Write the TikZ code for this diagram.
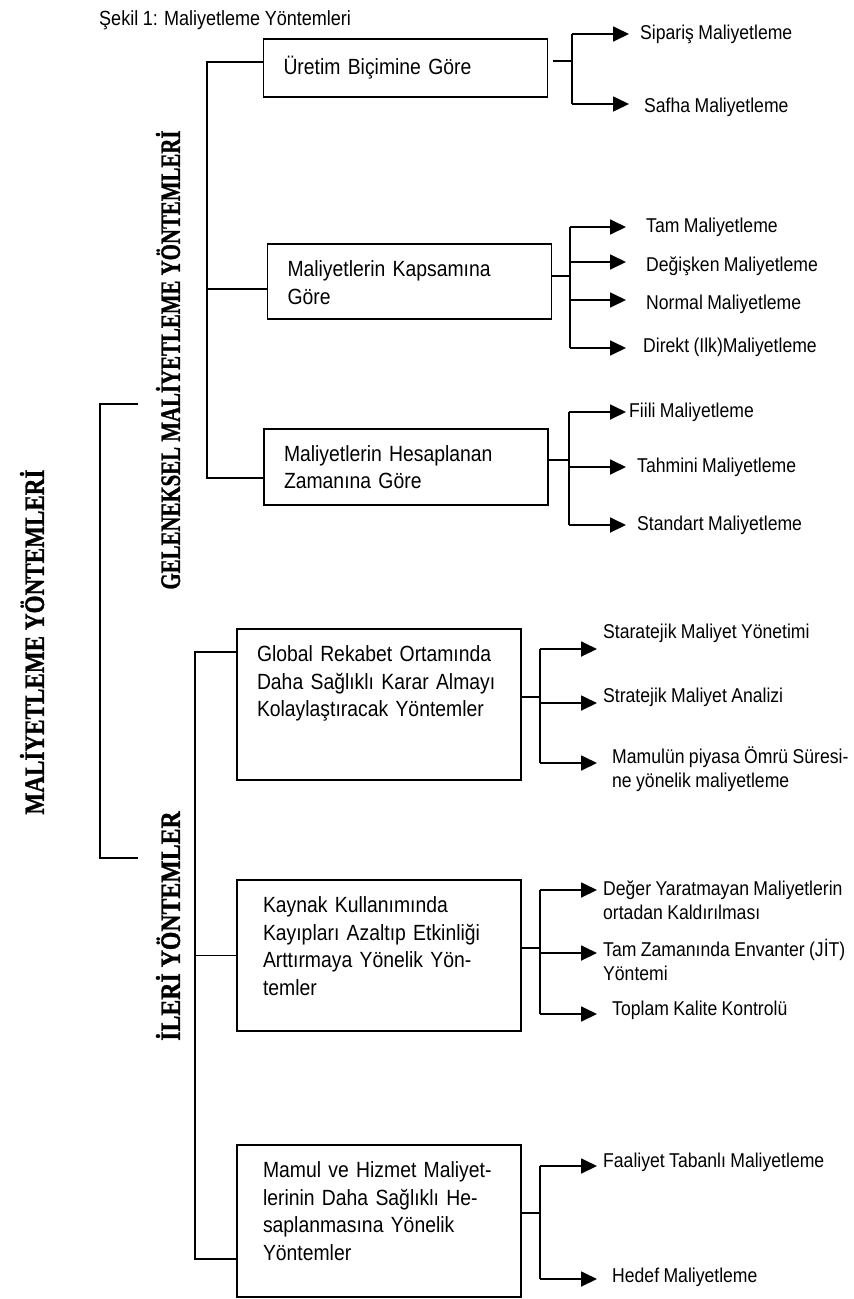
\documentclass[tikz,border=0pt]{standalone}
\usepackage{fontspec}
\setmainfont{Liberation Sans}[FakeStretch=0.88, WordSpace=0.9]
\newfontfamily\headfont{Liberation Serif}[UprightFont={* Bold}, FakeBold=1.3]
\usetikzlibrary{arrows.meta, positioning}

\begin{document}
\begin{tikzpicture}[x=1pt, y=-1pt,
    box/.style={draw, line width=1.9pt, minimum width=284pt, align=left, inner xsep=20pt, text width=244pt, font=\fontsize{22}{27.6}\selectfont},
    wide/.style={inner xsep=26pt, text width=232pt},
    lbl/.style={anchor=west, align=left, inner sep=0pt, font=\fontsize{20}{24.5}\selectfont},
    link/.style={line width=1.8pt},
    arrow/.style={line width=1.8pt, -{Triangle[length=16pt, width=15pt]}},
    head/.style={rotate=90, inner sep=0pt, font=\headfont\fontsize{28}{30}\selectfont}
]
    \useasboundingbox (0,0) rectangle (854,1299);

    % Baslik
    \node[anchor=base west, inner sep=0pt, font=\fontsize{20.5}{24}\selectfont] (title) at (99,25) {Şekil 1: Maliyetleme Yöntemleri};

    % -- Dikey basliklar --
    \node[head] (main) at (32,642) {\scalebox{0.826}[1]{MALİYETLEME YÖNTEMLERİ}};
    \node[head] (gel) at (168,360) {\scalebox{0.745}[1]{GELENEKSEL MALİYETLEME YÖNTEMLERİ}};
    \node[head] (ileri) at (168,926) {\scalebox{0.85}[1]{İLERİ YÖNTEMLER}};

    % -- Geleneksel yontemler (kutular) --
    \node[box, minimum height=58pt] (b1) at (405.5,68) {Üretim Biçimine Göre};
    \node[box, minimum height=75pt, text depth=25.5pt] (b2) at (409.5,281.5) {Maliyetlerin Kapsamına\\Göre};
    \node[box, minimum height=76pt] (b3) at (406,467) {Maliyetlerin Hesaplanan\\Zamanına Göre};

    % -- Ileri yontemler (kutular) --
    \node[box, minimum height=151pt, text depth=101.5pt] (b4) at (379,704.5) {Global Rekabet Ortamında\\Daha Sağlıklı Karar Almayı\\Kolaylaştıracak Yöntemler};
    \node[box, wide, minimum height=151pt, text depth=101.5pt] (b5) at (379,955.5) {Kaynak Kullanımında\\Kayıpları Azaltıp Etkinliği\\Arttırmaya Yönelik Yön-\\temler};
    \node[box, wide, minimum height=152pt, text depth=102.5pt] (b6) at (379,1221) {Mamul ve Hizmet Maliyet-\\lerinin Daha Sağlıklı He-\\saplanmasına Yönelik\\Yöntemler};

    % -- Ana ayrim (sol parantez) --
    \coordinate (gtip) at (138,404);
    \coordinate (itip) at (138,858);
    \draw[link] (gtip) -- ++(-38,0) |- (itip);

    % -- Geleneksel parantezi --
    \coordinate (gx) at (207,0);
    \draw[link] ([yshift=6pt]b1.west) -| ([yshift=-11pt]b3.west -| gx) -- ([yshift=-11pt]b3.west);
    \draw[link] ([yshift=-7.5pt]b2.west) -- ([yshift=-7.5pt]b2.west -| gx);

    % -- Ileri parantezi --
    \coordinate (ix) at (195,0);
    \draw[link] ([yshift=52.5pt]b4.west) -| ([yshift=-38pt]b6.west -| ix) -- ([yshift=-38pt]b6.west);
    \draw[link] (b5.west) -- (b5.west -| ix);

    % -- Uretim bicimine gore --
    \coordinate (f1) at (572,0);
    \coordinate (t11) at (629,34);
    \coordinate (t12) at (629,104);
    \draw[link] ([xshift=5pt, yshift=7pt]b1.east) -- ([yshift=7pt]b1.east -| f1);
    \draw[link] (f1 |- t11) -- (f1 |- t12);
    \draw[arrow] (f1 |- t11) -- (t11);
    \draw[arrow] (f1 |- t12) -- (t12);
    \node[lbl] (l11) at (640,34) {Sipariş Maliyetleme};
    \node[lbl] (l12) at (644,107) {Safha Maliyetleme};

    % -- Kapsamina gore --
    \coordinate (f2) at (570,0);
    \coordinate (t21) at (626,227);
    \coordinate (t22) at (626,262);
    \coordinate (t23) at (626,300);
    \coordinate (t24) at (626,348);
    \draw[link] ([yshift=5.5pt]b2.east) -- ([yshift=5.5pt]b2.east -| f2);
    \draw[link] (f2 |- t21) -- (f2 |- t24);
    \foreach \t in {t21,t22,t23,t24}
        \draw[arrow] (f2 |- \t) -- (\t);
    \node[lbl] (l21) at (646,227) {Tam Maliyetleme};
    \node[lbl] (l22) at (646,266) {Değişken Maliyetleme};
    \node[lbl] (l23) at (646,304) {Normal Maliyetleme};
    \node[lbl] (l24) at (643,347) {Direkt (Ilk)Maliyetleme};

    % -- Hesaplanan zamanina gore --
    \coordinate (f3) at (569,0);
    \coordinate (t31) at (626,412);
    \coordinate (t32) at (626,467);
    \coordinate (t33) at (626,525);
    \draw[link] ([yshift=7pt]b3.east) -- ([yshift=7pt]b3.east -| f3);
    \draw[link] (f3 |- t31) -- (f3 |- t33);
    \foreach \t in {t31,t32,t33}
        \draw[arrow] (f3 |- \t) -- (\t);
    \node[lbl] (l31) at (629,412) {Fiili Maliyetleme};
    \node[lbl] (l32) at (637,467) {Tahmini Maliyetleme};
    \node[lbl] (l33) at (637,525) {Standart Maliyetleme};

    % -- Global rekabet --
    \coordinate (f4) at (540,0);
    \coordinate (t41) at (597,649);
    \coordinate (t42) at (597,703);
    \coordinate (t43) at (597,763);
    \draw[link] ([yshift=7.5pt]b4.east) -- ([yshift=7.5pt]b4.east -| f4);
    \draw[link] (f4 |- t41) -- (f4 |- t43);
    \foreach \t in {t41,t42,t43}
        \draw[arrow] (f4 |- \t) -- (\t);
    \node[lbl] (l41) at (603,633) {Staratejik Maliyet Yönetimi};
    \node[lbl] (l42) at (603,697) {Stratejik Maliyet Analizi};
    \node[lbl] (l43) at (612,769) {Mamulün piyasa Ömrü Süresi-\\ne yönelik maliyetleme};

    % -- Kaynak kullanimi --
    \coordinate (f5) at (540,0);
    \coordinate (t51) at (597,890);
    \coordinate (t52) at (597,953);
    \coordinate (t53) at (597,1014);
    \draw[link] ([yshift=7.5pt]b5.east) -- ([yshift=7.5pt]b5.east -| f5);
    \draw[link] (f5 |- t51) -- (f5 |- t53);
    \foreach \t in {t51,t52,t53}
        \draw[arrow] (f5 |- \t) -- (\t);
    \node[lbl] (l51) at (603,900) {Değer Yaratmayan Maliyetlerin\\ortadan Kaldırılması};
    \node[lbl] (l52) at (603,960) {Tam Zamanında Envanter (JİT)\\Yöntemi};
    \node[lbl] (l53) at (612,1010) {Toplam Kalite Kontrolü};

    % -- Mamul ve hizmet --
    \coordinate (f6) at (540,0);
    \coordinate (t61) at (597,1166);
    \coordinate (t62) at (597,1279);
    \draw[link] ([yshift=8pt]b6.east) -- ([yshift=8pt]b6.east -| f6);
    \draw[link] (f6 |- t61) -- (f6 |- t62);
    \draw[arrow] (f6 |- t61) -- (t61);
    \draw[arrow] (f6 |- t62) -- (t62);
    \node[lbl] (l61) at (603,1162) {Faaliyet Tabanlı Maliyetleme};
    \node[lbl] (l62) at (612,1277) {Hedef Maliyetleme};

\end{tikzpicture}
\end{document}
